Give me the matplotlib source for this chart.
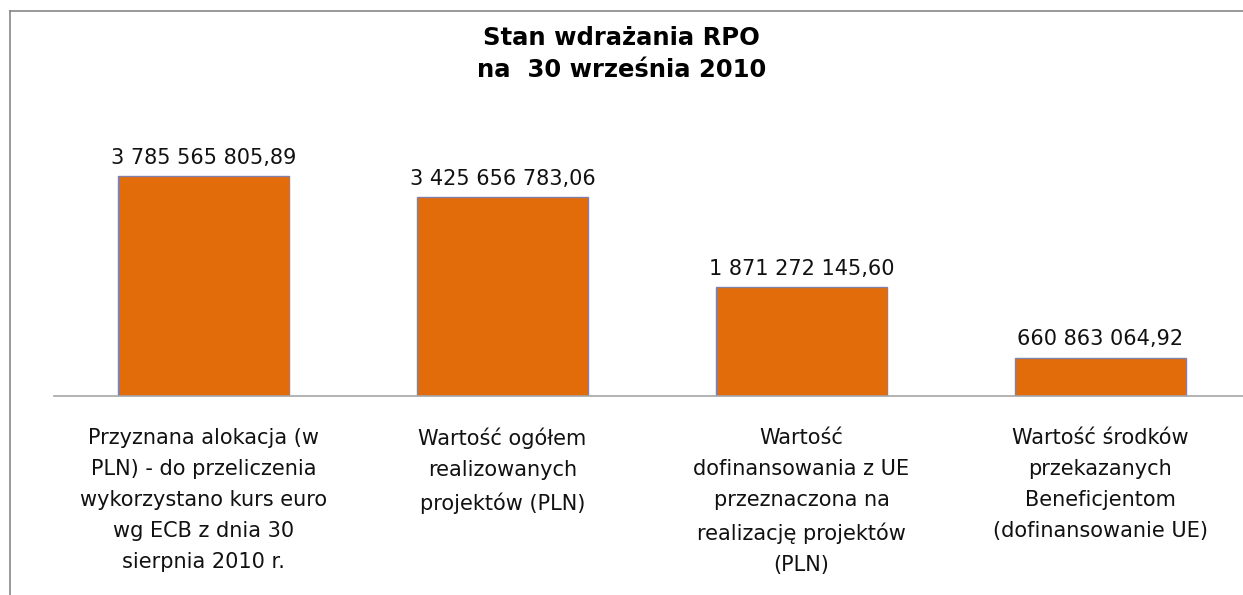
import matplotlib.pyplot as plt
from matplotlib.lines import Line2D

# Data
categories = [
    "Przyznana alokacja (w\nPLN) - do przeliczenia\nwykorzystano kurs euro\nwg ECB z dnia 30\nsierpnia 2010 r.",
    "Wartość ogółem\nrealizowanych\nprojektów (PLN)",
    "Wartość\ndofinansowania z UE\nprzeznaczona na\nrealizację projektów\n(PLN)",
    "Wartość środków\nprzekazanych\nBeneficjentom\n(dofinansowanie UE)",
]
values = [3785565805.89, 3425656783.06, 1871272145.60, 660863064.92]
value_labels = ["3 785 565 805,89", "3 425 656 783,06", "1 871 272 145,60", "660 863 064,92"]

W, H = 1243, 595
fig = plt.figure(figsize=(W / 100, H / 100), dpi=100)

# axes: baseline at y=396px, x range -0.5..3.5 from x=54px
ax = fig.add_axes([54 / W, (H - 396) / H, 1196 / W, 232.4 / H])
x = range(len(values))
ax.bar(x, values, width=0.573, color="#E36C0A", edgecolor="#8080A8", linewidth=1)
ax.set_xlim(-0.5, 3.5)
ax.set_ylim(0, 4e9)

for i, (v, lab) in enumerate(zip(values, value_labels)):
    ax.annotate(lab, (i, v), xytext=(0, 6), textcoords="offset points",
                ha="center", va="bottom", fontsize=15, family="DejaVu Sans",
                color="#111111")

ax.set_xticks(list(x))
ax.set_xticklabels(categories, fontsize=15, family="DejaVu Sans",
                   linespacing=1.69, color="#111111")
ax.tick_params(axis="x", length=0, pad=23)
ax.set_yticks([])
for s in ["top", "right", "left"]:
    ax.spines[s].set_visible(False)
ax.spines["bottom"].set_color("#A6A6A6")
ax.spines["bottom"].set_linewidth(1.2)

fig.text(0.5, 1 - 45 / H, "Stan wdrażania RPO", ha="center", va="baseline",
         fontsize=17.5, fontweight="bold", family="DejaVu Sans")
fig.text(0.5, 1 - 77 / H, "na  30 września 2010", ha="center", va="baseline",
         fontsize=17.5, fontweight="bold", family="DejaVu Sans")

# outer frame (left and top edges)
fig.add_artist(Line2D([10 / W, 10 / W], [0, 1 - 11 / H], color="#888888", lw=1.2))
fig.add_artist(Line2D([10 / W, 1], [1 - 11 / H, 1 - 11 / H], color="#888888", lw=1.2))

fig.savefig("out.png", dpi=100)
